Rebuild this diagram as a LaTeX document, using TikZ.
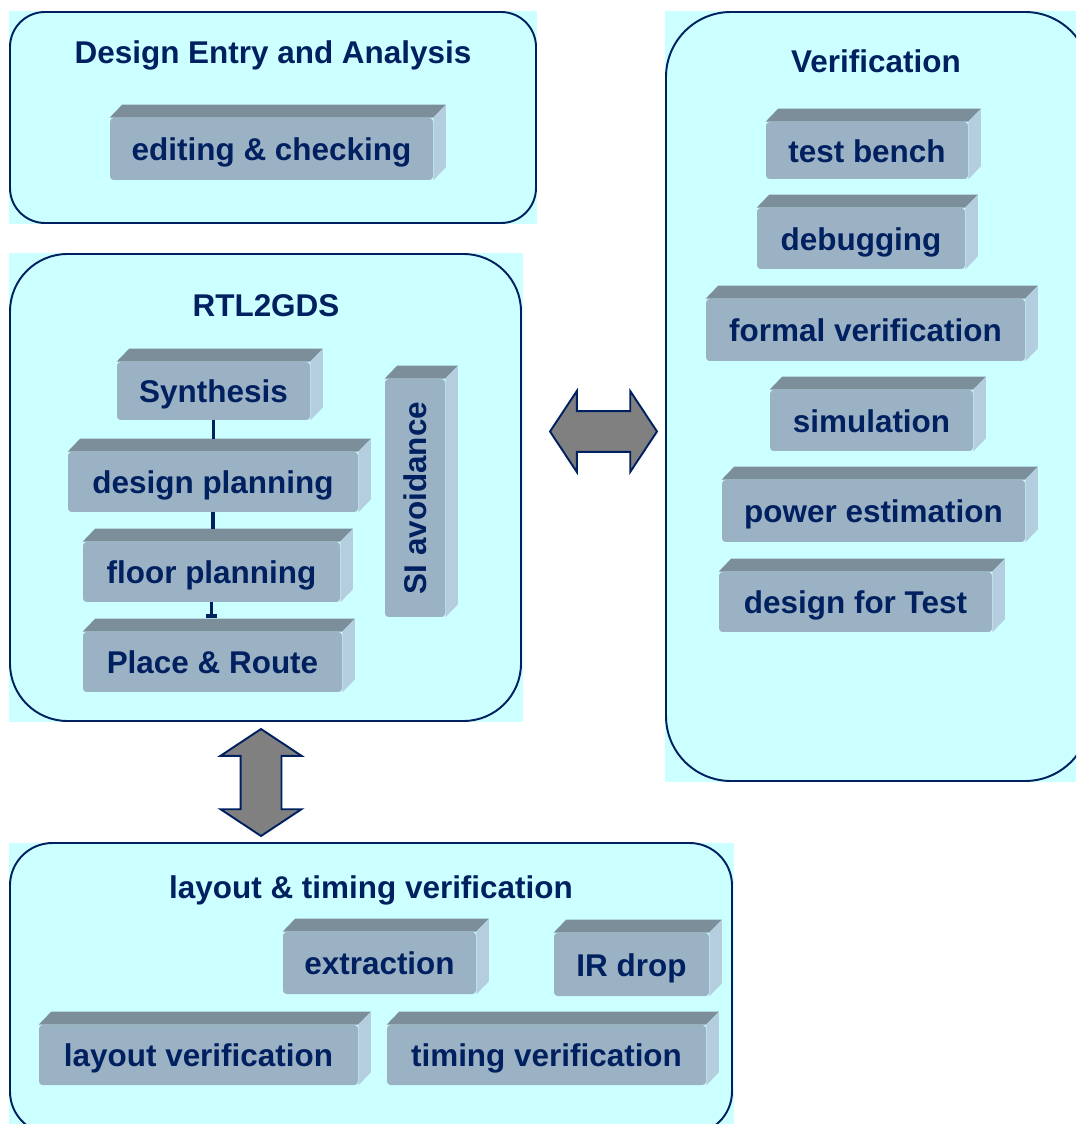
\documentclass[tikz,border=0pt]{standalone}
\usepackage{fontspec}
\setmainfont{Liberation Sans}
\usetikzlibrary{positioning, calc, shapes.arrows, arrows.meta}
\definecolor{navy}{RGB}{0,32,96}
\definecolor{cyanbg}{RGB}{204,255,255}
\definecolor{boxfront}{RGB}{155,178,196}
\definecolor{boxtop}{RGB}{125,142,155}
\definecolor{boxside}{RGB}{180,206,224}
\definecolor{arrowgray}{RGB}{128,128,128}
\tikzstyle{Panel} = [fill=cyanbg]
\tikzstyle{Frame} = [draw=navy, line width=1.1pt]
\tikzstyle{Title} = [inner sep=0.1mm, text=navy, text height=13.6pt, text depth=0pt,
font=\bfseries\fontsize{17.9}{20}\selectfont]
\tikzstyle{Block} = [rectangle, rounded corners=2pt, fill=boxfront,
inner sep=0pt, text=navy, text height=13.6pt, text depth=0pt,
font=\bfseries\fontsize{17.9}{20}\selectfont]
\tikzstyle{Link} = [draw=navy, line width=2.2pt]
\tikzstyle{BigArrow} = [
shape=double arrow, draw=navy, line width=1.1pt, fill=arrowgray,
inner sep=0pt, text height=0pt, text depth=0pt, inner ysep=0.39cm,
double arrow head extend=0.4cm, double arrow tip angle=113,
minimum height=2.14cm]

\begin{document}
\begin{tikzpicture}[x=0.02cm, y=-0.02cm]
    \clip (0,0) rectangle (1076,1124);
    \fill[Panel] (9,11) rectangle (537,224);
    \fill[Panel] (9,253) rectangle (523,722);
    \fill[Panel] (665,11) rectangle (1076,782);
    \fill[Panel] (9,843) rectangle (734,1124);
    \draw[Frame, rounded corners=0.7cm] (10,12) rectangle (536,223);
    \draw[Frame, rounded corners=1.15cm] (10,254) rectangle (521,721);
    \draw[Frame, rounded corners=1.3cm] (666,12) rectangle (1090,781);
    \draw[Frame, rounded corners=0.85cm] (10,843) rectangle (732,1134);

    \node[Title] (A) at (273,52) {Design Entry and Analysis};
    \node[Title] (B) at (266,305) {RTL2GDS};
    \node[Title] (C) at (876,61) {Verification};
    \node[Title] (D) at (371,887) {layout \& timing verification};

    \node[Block, minimum width=6.46cm, minimum height=1.24cm] (1) at (271.5,149) {editing \& checking};
    \node[Block, minimum width=3.86cm, minimum height=1.16cm] (2) at (213.5,391) {Synthesis};
    \node[Block, minimum width=5.8cm, minimum height=1.2cm] (3) at (213,482) {design planning};
    \node[Block, minimum width=5.14cm, minimum height=1.2cm] (4) at (211.5,572) {floor planning};
    \node[Block, minimum width=5.18cm, minimum height=1.2cm] (5) at (212.5,662) {Place \& Route};
    \node[Block, minimum width=1.2cm, minimum height=4.76cm, text height=, text depth=] (6) at (415,498) {\rotatebox{90}{SI avoidance}};
    \node[Block, minimum width=4.04cm, minimum height=1.14cm] (7) at (867,150.5) {test bench};
    \node[Block, minimum width=4.16cm, minimum height=1.22cm] (8) at (861,238.5) {debugging};
    \node[Block, minimum width=6.38cm, minimum height=1.24cm] (9) at (865.5,330) {formal verification};
    \node[Block, minimum width=4.06cm, minimum height=1.22cm] (10) at (871.5,420.5) {simulation};
    \node[Block, minimum width=6.06cm, minimum height=1.24cm] (11) at (873.5,511) {power estimation};
    \node[Block, minimum width=5.46cm, minimum height=1.2cm] (12) at (855.5,602) {design for Test};
    \node[Block, minimum width=3.86cm, minimum height=1.24cm] (13) at (379.5,963) {extraction};
    \node[Block, minimum width=3.1cm, minimum height=1.26cm] (14) at (631.5,964.5) {IR drop};
    \node[Block, minimum width=6.38cm, minimum height=1.2cm] (15) at (198.5,1055) {layout verification};
    \node[Block, minimum width=6.38cm, minimum height=1.2cm] (16) at (546.5,1055) {timing verification};

    \foreach \n in {1,...,16}{
        \fill[boxtop] (\n.north west) -- ++(0.25cm,0.26cm)
            -- ([shift={(0.25cm,0.26cm)}]\n.north east) -- (\n.north east) -- cycle;
        \fill[boxside] (\n.north east) -- ++(0.25cm,0.26cm)
            -- ([shift={(0.25cm,0.26cm)}]\n.south east) -- (\n.south east) -- cycle;
    }

    \draw[Link] (2.south) -- ($(2.south |- 3.north)+(0,0.26cm)$);
    \draw[Link] (3.south) -- ($(3.south |- 4.north)+(0,0.26cm)$);
    \draw[Link, -{Bar[width=0.22cm]}] (4.south) -- ($(4.south |- 5.north)+(0,0.27cm)$);

    \node[BigArrow] (17) at (603.5,431.5) {};
    \node[BigArrow, rotate=90] (18) at (261,782.5) {};
\end{tikzpicture}
\end{document}
